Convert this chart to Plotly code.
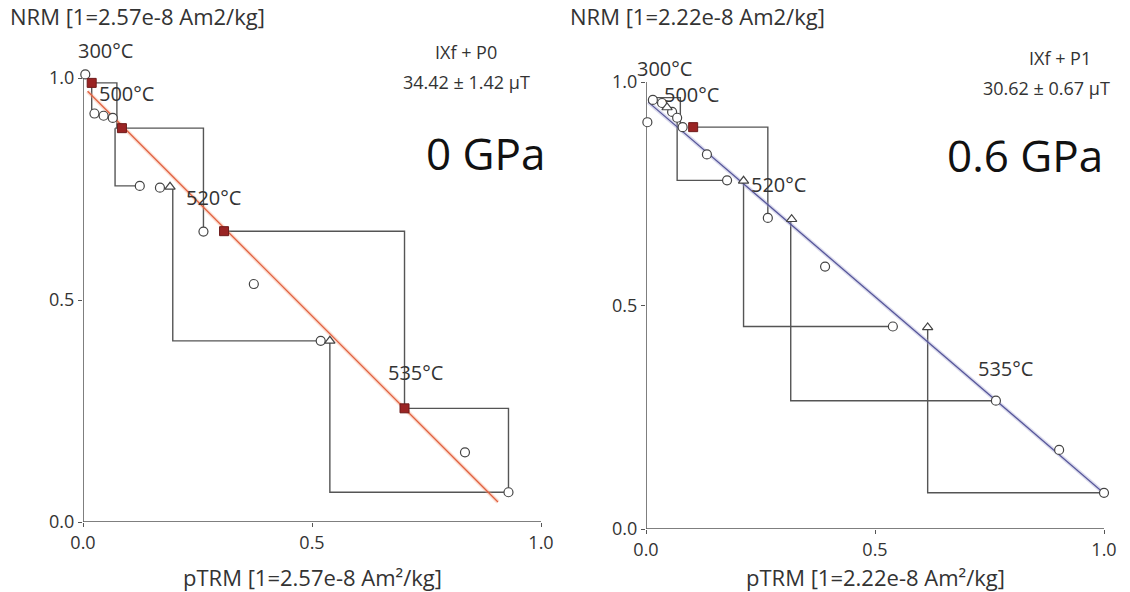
import plotly.graph_objects as go

W, H = 1130, 592

# ---------------- data: left panel (0 GPa) ----------------
left_circ_x = [0.005, 0.025, 0.045, 0.065, 0.124, 0.168, 0.263, 0.373, 0.519, 0.834, 0.929]
left_circ_y = [1.008, 0.920, 0.915, 0.910, 0.757, 0.753, 0.654, 0.536, 0.408, 0.157, 0.067]
left_sq_x = [0.019, 0.085, 0.308, 0.702]
left_sq_y = [0.989, 0.887, 0.655, 0.256]
left_tri_x = [0.190, 0.539]
left_tri_y = [0.755, 0.408]
left_check_x = [[0.017, 0.074, 0.074], [0.019, 0.019, 0.025], [0.070, 0.263, 0.263], [0.070, 0.070, 0.124],
                [0.308, 0.702, 0.702], [0.196, 0.196, 0.519], [0.702, 0.929, 0.929], [0.539, 0.539, 0.929]]
left_check_y = [[0.989, 0.989, 0.887], [0.989, 0.920, 0.920], [0.887, 0.887, 0.654], [0.887, 0.757, 0.757],
                [0.655, 0.655, 0.256], [0.755, 0.408, 0.408], [0.256, 0.256, 0.067], [0.408, 0.067, 0.067]]
left_fit_x = [0.010, 0.906]
left_fit_y = [0.970, 0.045]
left_temp_labels = ["300°C", "500°C", "520°C", "535°C"]
left_temp_x = [0.050, 0.094, 0.284, 0.725]
left_temp_y = [1.063, 0.966, 0.730, 0.336]

# ---------------- data: right panel (0.6 GPa) ----------------
right_circ_x = [0.003, 0.015, 0.035, 0.057, 0.068, 0.080, 0.133, 0.177, 0.266, 0.391, 0.539, 0.764, 0.902, 1.000]
right_circ_y = [0.910, 0.960, 0.953, 0.933, 0.920, 0.899, 0.838, 0.780, 0.696, 0.587, 0.453, 0.287, 0.177, 0.081]
right_sq_x = [0.103]
right_sq_y = [0.899]
right_tri_x = [0.046, 0.213, 0.318, 0.615]
right_tri_y = [0.943, 0.779, 0.693, 0.451]
right_check_x = [[0.015, 0.075, 0.075], [0.068, 0.068, 0.177], [0.103, 0.266, 0.266],
                 [0.213, 0.213, 0.539], [0.316, 0.316, 0.764], [0.615, 0.615, 1.000]]
right_check_y = [[0.965, 0.965, 0.899], [0.920, 0.780, 0.780], [0.899, 0.899, 0.696],
                 [0.779, 0.453, 0.453], [0.693, 0.287, 0.287], [0.451, 0.081, 0.081]]
right_fit_x = [0.005, 1.000]
right_fit_y = [0.955, 0.080]
right_temp_labels = ["300°C", "500°C", "520°C", "535°C"]
right_temp_x = [0.041, 0.100, 0.290, 0.784]
right_temp_y = [1.031, 0.971, 0.770, 0.360]

tick_vals = [0.0, 0.5, 1.0]
tick_text = ["0.0", "0.5", "1.0"]

panels = [
    dict(xa="x", ya="y",
         circ=(left_circ_x, left_circ_y), sq=(left_sq_x, left_sq_y), tri=(left_tri_x, left_tri_y),
         chk=(left_check_x, left_check_y), fit=(left_fit_x, left_fit_y),
         halo="rgba(245,160,130,0.35)", core="#e0603f",
         temps=(left_temp_labels, left_temp_x, left_temp_y),
         nrm="NRM [1=2.57e-8 Am2/kg]", ptrm="pTRM [1=2.57e-8 Am²/kg]",
         method="IXf + P0", result="34.42 ± 1.42 μT", gpa="0 GPa",
         px=(83, 541), py=(522, 78), ytop=1.08,
         nrm_pos=(8, 16), method_pos=(466, 52), result_pos=(466, 82), gpa_pos=(486, 153)),
    dict(xa="x2", ya="y2",
         circ=(right_circ_x, right_circ_y), sq=(right_sq_x, right_sq_y), tri=(right_tri_x, right_tri_y),
         chk=(right_check_x, right_check_y), fit=(right_fit_x, right_fit_y),
         halo="rgba(165,165,210,0.4)", core="#555599",
         temps=(right_temp_labels, right_temp_x, right_temp_y),
         nrm="NRM [1=2.22e-8 Am2/kg]", ptrm="pTRM [1=2.22e-8 Am²/kg]",
         method="IXf + P1", result="30.62 ± 0.67 μT", gpa="0.6 GPa",
         px=(646, 1104), py=(529, 82), ytop=1.06,
         nrm_pos=(568, 16), method_pos=(1060, 58), result_pos=(1046, 88), gpa_pos=(1025, 155)),
]

FONT = "Open Sans"
GREY = "#555555"
TXT = "#333333"

fig = go.Figure()
annotations = []
shapes = []


def px2paper(xp, yp):
    return xp / W, 1 - yp / H


for p in panels:
    xa, ya = p["xa"], p["ya"]
    # axis lines from 0 to 1
    shapes.append(dict(type="line", xref=xa, yref=ya, x0=0, y0=0, x1=0, y1=1,
                       line=dict(color=GREY, width=1.5), layer="below"))
    shapes.append(dict(type="line", xref=xa, yref=ya, x0=0, y0=0, x1=1, y1=0,
                       line=dict(color=GREY, width=1.5), layer="below"))
    cx, cy = p["chk"]
    for xs, ys in zip(cx, cy):
        fig.add_trace(go.Scatter(x=xs, y=ys, mode="lines", xaxis=xa, yaxis=ya,
                                 line=dict(color=GREY, width=1.4), cliponaxis=False,
                                 showlegend=False, hoverinfo="skip"))
    fx, fy = p["fit"]
    fig.add_trace(go.Scatter(x=fx, y=fy, mode="lines", xaxis=xa, yaxis=ya,
                             line=dict(color=p["halo"], width=4), cliponaxis=False,
                             showlegend=False, hoverinfo="skip"))
    fig.add_trace(go.Scatter(x=fx, y=fy, mode="lines", xaxis=xa, yaxis=ya,
                             line=dict(color=p["core"], width=1.3), cliponaxis=False,
                             showlegend=False, hoverinfo="skip"))
    x, y = p["circ"]
    fig.add_trace(go.Scatter(x=x, y=y, mode="markers", xaxis=xa, yaxis=ya, cliponaxis=False,
                             marker=dict(symbol="circle", size=9, color="white",
                                         line=dict(color="#444444", width=1.2)),
                             showlegend=False))
    x, y = p["tri"]
    fig.add_trace(go.Scatter(x=x, y=y, mode="markers", xaxis=xa, yaxis=ya, cliponaxis=False,
                             marker=dict(symbol="triangle-up", size=9, color="white",
                                         line=dict(color="#444444", width=1.2)),
                             showlegend=False))
    x, y = p["sq"]
    fig.add_trace(go.Scatter(x=x, y=y, mode="markers", xaxis=xa, yaxis=ya, cliponaxis=False,
                             marker=dict(symbol="square", size=9, color="#9a2424",
                                         line=dict(color="#6e1a1a", width=1)),
                             showlegend=False))
    labels, lx, ly = p["temps"]
    for t, tx, ty in zip(labels, lx, ly):
        annotations.append(dict(x=tx, y=ty, xref=xa, yref=ya, text=t, showarrow=False,
                                font=dict(family=FONT, size=20, color=TXT),
                                xanchor="center", yanchor="middle"))

    ax_, ay_ = px2paper(*p["nrm_pos"])
    annotations.append(dict(x=ax_, y=ay_, xref="paper", yref="paper", text=p["nrm"], showarrow=False,
                            font=dict(family=FONT, size=22, color=TXT), xanchor="left", yanchor="middle"))
    cxp = (p["px"][0] + p["px"][1]) / 2
    ax_, ay_ = px2paper(cxp, 577)
    annotations.append(dict(x=ax_, y=ay_, xref="paper", yref="paper", text=p["ptrm"], showarrow=False,
                            font=dict(family=FONT, size=22, color=TXT), xanchor="center", yanchor="middle"))
    ax_, ay_ = px2paper(*p["method_pos"])
    annotations.append(dict(x=ax_, y=ay_, xref="paper", yref="paper", text=p["method"], showarrow=False,
                            font=dict(family=FONT, size=18, color=TXT), xanchor="center", yanchor="middle"))
    ax_, ay_ = px2paper(*p["result_pos"])
    annotations.append(dict(x=ax_, y=ay_, xref="paper", yref="paper", text=p["result"], showarrow=False,
                            font=dict(family=FONT, size=18, color=TXT), xanchor="center", yanchor="middle"))
    ax_, ay_ = px2paper(*p["gpa_pos"])
    annotations.append(dict(x=ax_, y=ay_, xref="paper", yref="paper", text=p["gpa"], showarrow=False,
                            font=dict(family=FONT, size=44, color="#111111"), xanchor="center", yanchor="middle"))


def axis(p, which):
    common = dict(showgrid=False, zeroline=False, showline=False, automargin=False,
                  ticks="outside", ticklen=4, tickcolor=GREY, tickwidth=1.2,
                  tickvals=tick_vals, ticktext=tick_text,
                  tickfont=dict(family=FONT, size=18, color=TXT), fixedrange=True)
    if which == "x":
        return dict(domain=[p["px"][0] / W, p["px"][1] / W], range=[0, 1.0], **common)
    y0, y1 = p["py"]
    scale = (y0 - y1)  # px per unit
    top_px = y0 - scale * p["ytop"]
    return dict(domain=[1 - y0 / H, 1 - top_px / H], range=[0, p["ytop"]], **common)


lp, rp = panels
fig.update_layout(
    template="none",
    width=W, height=H, margin=dict(l=0, r=0, t=0, b=0, pad=0),
    paper_bgcolor="white", plot_bgcolor="rgba(0,0,0,0)", showlegend=False,
    xaxis=dict(anchor="y", **axis(lp, "x")),
    yaxis=dict(anchor="x", **axis(lp, "y")),
    xaxis2=dict(anchor="y2", **axis(rp, "x")),
    yaxis2=dict(anchor="x2", **axis(rp, "y")),
    annotations=annotations,
    shapes=shapes,
)

fig.write_html("out.html",
               config={"displayModeBar": False},
               post_script="document.body.style.margin='0';document.body.style.overflow='hidden';")
